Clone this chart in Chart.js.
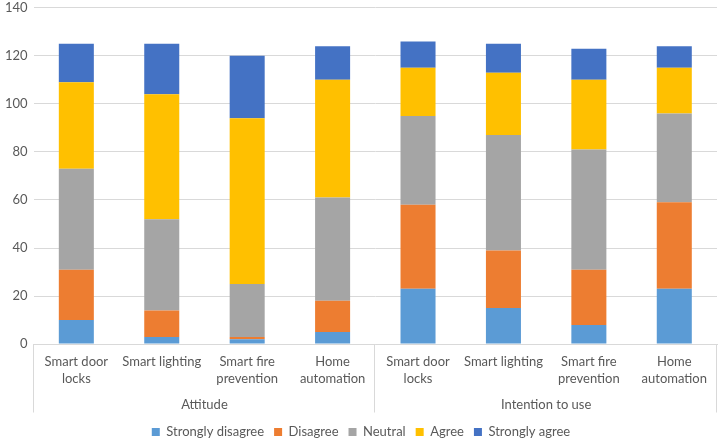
<!DOCTYPE html>
<html>
<head>
<meta charset="utf-8">
<script src="https://cdn.jsdelivr.net/npm/chart.js@4"></script>
<style>
  html, body { margin: 0; padding: 0; background: #fff; }
  #wrap { width: 720px; height: 441px; }
</style>
</head>
<body>
<div id="wrap"><canvas id="chart"></canvas></div>
<script>
// categories (two lines each) and their groups
const categories = [
  ["Smart door", "locks"], ["Smart lighting"], ["Smart fire", "prevention"], ["Home", "automation"],
  ["Smart door", "locks"], ["Smart lighting"], ["Smart fire", "prevention"], ["Home", "automation"],
];
const groups = ["Attitude", "Intention to use"];
const groupSize = 4;

// series values
const stronglyDisagree = [10, 3, 2, 5, 23, 15, 8, 23];
const disagree = [21, 11, 1, 13, 35, 24, 23, 36];
const neutral = [42, 38, 22, 43, 37, 48, 50, 37];
const agree = [36, 52, 69, 49, 20, 26, 29, 19];
const stronglyAgree = [16, 21, 26, 14, 11, 12, 13, 9];

const yTicks = [0, 20, 40, 60, 80, 100, 120, 140];

const textColor = "#595959";
const gridColor = "#d9d9d9";
const fontFamily = "Lato, 'Open Sans', sans-serif";

// draws the group separators under the category axis,
// and keeps the legend snug at the bottom
const groupLines = {
  id: "groupLines",
  afterInit(chart) {
    const legend = chart.legend;
    const fit = legend.fit.bind(legend);
    legend.fit = () => {
      fit();
      legend.height = 25.5;
    };
  },
  afterDraw(chart) {
    const x = chart.scales.x;
    const x2 = chart.scales.x2;
    const ctx = chart.ctx;
    const step = (x.right - x.left) / categories.length;
    ctx.save();
    ctx.strokeStyle = gridColor;
    ctx.lineWidth = 1;
    for (let i = 0; i <= categories.length; i += groupSize) {
      const px = Math.round(x.left + step * i) - 0.5;
      ctx.beginPath();
      ctx.moveTo(px, x.top);
      ctx.lineTo(px, x2.bottom - 3);
      ctx.stroke();
    }
    ctx.restore();
  },
};

const ds = (label, data, color) => ({
  label,
  data,
  backgroundColor: color,
  borderWidth: 0,
  categoryPercentage: 1,
  barPercentage: 0.41,
});

new Chart(document.getElementById("chart"), {
  type: "bar",
  data: {
    labels: categories,
    datasets: [
      ds("Strongly disagree", stronglyDisagree, "#5b9bd5"),
      ds("Disagree", disagree, "#ed7d31"),
      ds("Neutral", neutral, "#a5a5a5"),
      ds("Agree", agree, "#ffc000"),
      ds("Strongly agree", stronglyAgree, "#4472c4"),
    ],
  },
  options: {
    responsive: true,
    maintainAspectRatio: false,
    animation: false,
    layout: { padding: { left: 5, right: 3, top: 0, bottom: 0 } },
    plugins: {
      tooltip: { enabled: false },
      legend: {
        position: "bottom",
        labels: {
          boxWidth: 8,
          boxHeight: 8,
          padding: 10,
          color: textColor,
          font: { family: fontFamily, size: 13 },
        },
      },
    },
    scales: {
      x: {
        stacked: true,
        grid: { display: false, drawTicks: false },
        border: { display: true, color: gridColor },
        ticks: {
          color: textColor,
          font: { family: fontFamily, size: 13, lineHeight: 1.3 },
          maxRotation: 0,
          autoSkip: false,
          padding: 9.5,
        },
      },
      x2: {
        type: "category",
        labels: groups,
        position: "bottom",
        offset: true,
        grid: { display: false, drawTicks: false },
        border: { display: false },
        ticks: {
          color: textColor,
          font: { family: fontFamily, size: 13 },
          maxRotation: 0,
          padding: 0,
        },
        afterFit: (axis) => {
          axis.height += 3;
        },
      },
      y: {
        stacked: true,
        min: 0,
        max: 140,
        afterBuildTicks: (axis) => {
          axis.ticks = yTicks.map((v) => ({ value: v }));
        },
        grid: {
          color: gridColor,
          drawTicks: true,
          tickLength: 6,
          tickColor: "rgba(0,0,0,0)",
        },
        border: { display: false },
        ticks: {
          color: textColor,
          font: { family: fontFamily, size: 13 },
          padding: 0,
        },
      },
    },
  },
  plugins: [groupLines],
});
</script>
</body>
</html>
